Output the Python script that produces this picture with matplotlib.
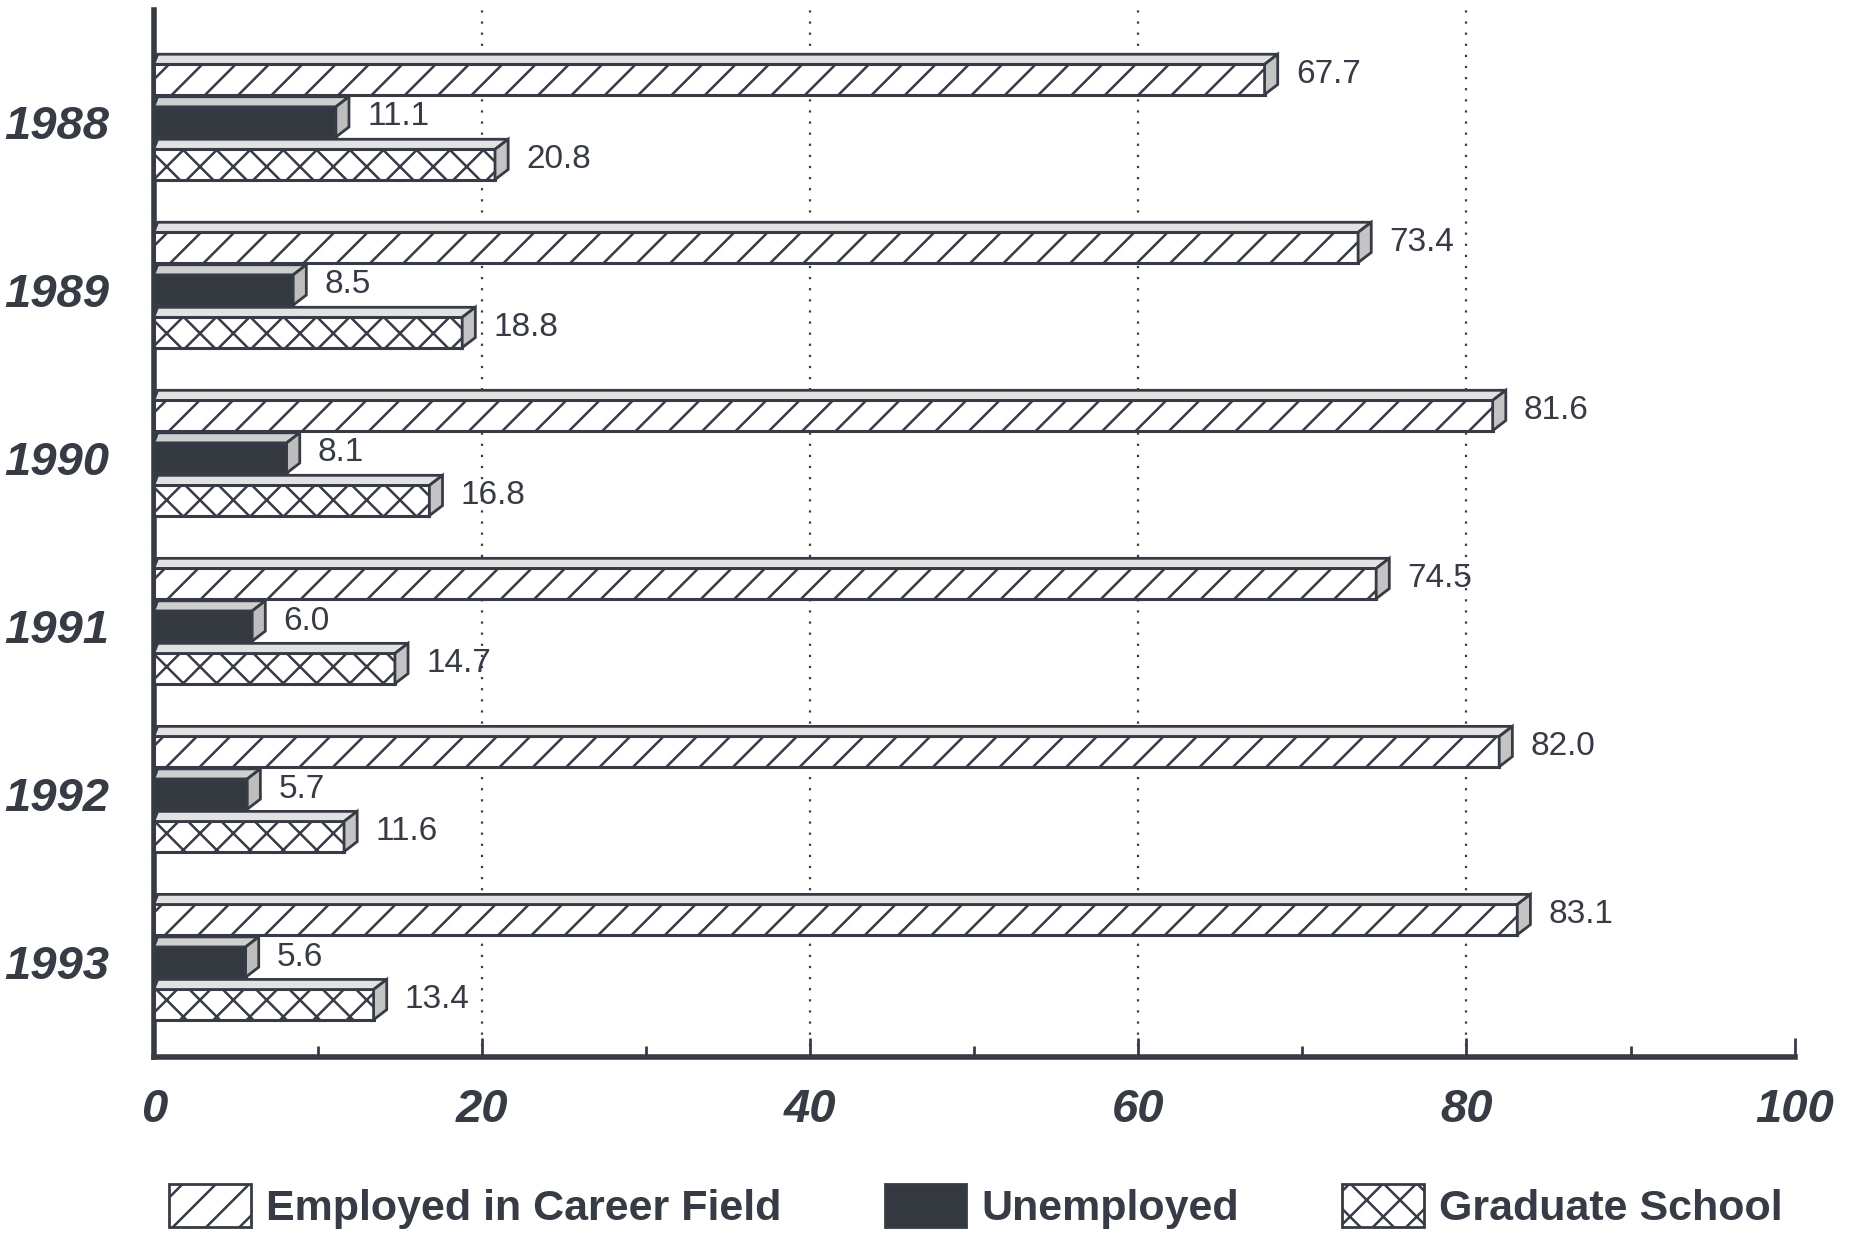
import matplotlib.pyplot as plt
import matplotlib.patches as mpatches
from matplotlib.patches import Polygon
import numpy as np

years = ['1988', '1989', '1990', '1991', '1992', '1993']
employed = [67.7, 73.4, 81.6, 74.5, 82.0, 83.1]
unemployed = [11.1, 8.5, 8.1, 6.0, 5.7, 5.6]
grad_school = [20.8, 18.8, 16.8, 14.7, 11.6, 13.4]
series_names = ['Employed in Career Field', 'Unemployed', 'Graduate School']

ink = '#363b45'
plt.rcParams['hatch.linewidth'] = 1.8
plt.rcParams['font.family'] = ['Liberation Sans', 'DejaVu Sans']

fig = plt.figure(figsize=(18.52, 12.34), dpi=100)
ax = fig.add_axes([0.083, 0.1434, 0.886, 0.8486])

h = 0.18      # front face height
pitch = 0.253 # distance between bars in a group
dx = 0.8      # depth in x (data units)
dy = 0.06     # depth in y

styles = [
    dict(face='white', hatch='/', top='#e2e2e2', side='#c4c4c4'),
    dict(face='#34383f', hatch=None, top='#cfcfcf', side='#bdbdbd'),
    dict(face='white', hatch='x', top='#e2e2e2', side='#c4c4c4'),
]

y_center = np.arange(len(years))
for k, vals in enumerate([employed, unemployed, grad_school]):
    st = styles[k]
    ys = y_center + (k - 1) * pitch
    ax.barh(ys, vals, height=h, color=st['face'], hatch=st['hatch'],
            edgecolor=ink, linewidth=2.2, zorder=3)
    for v, yc in zip(vals, ys):
        yt = yc - h / 2
        yb = yc + h / 2
        top = Polygon([(0, yt), (v, yt), (v + dx, yt - dy), (dx * 0.3, yt - dy)],
                      closed=True, facecolor=st['top'], edgecolor=ink, linewidth=2, zorder=3)
        side = Polygon([(v, yt), (v + dx, yt - dy), (v + dx, yb - dy), (v, yb)],
                       closed=True, facecolor=st['side'], edgecolor=ink, linewidth=2, zorder=3)
        ax.add_patch(top)
        ax.add_patch(side)
        ax.text(v + dx + 1.1, yc - dy / 2, f'{v:.1f}', va='center', ha='left',
                fontsize=24, color=ink, zorder=4)

ax.set_xlim(0, 100)
ax.set_ylim(5.565, -0.667)

ax.set_xticks([0, 20, 40, 60, 80, 100])
ax.set_xticks([10, 30, 50, 70, 90], minor=True)
ax.set_xticklabels(['0', '20', '40', '60', '80', '100'])
ax.set_yticks(y_center)
ax.set_yticklabels(years)

for lab in ax.get_xticklabels() + ax.get_yticklabels():
    lab.set_fontsize(34)
    lab.set_fontweight('bold')
    lab.set_fontstyle('italic')
    lab.set_color(ink)

ax.tick_params(axis='x', which='major', direction='in', length=14, width=2, color=ink, pad=22)
ax.tick_params(axis='x', which='minor', direction='in', length=8, width=2, color=ink)
ax.tick_params(axis='y', length=0, pad=32)

for x in [20, 40, 60, 80]:
    ax.axvline(x, color=ink, linestyle=(0, (1, 4)), linewidth=1.6, zorder=1)

for s in ['top', 'right']:
    ax.spines[s].set_visible(False)
for s in ['left', 'bottom']:
    ax.spines[s].set_linewidth(4)
    ax.spines[s].set_color(ink)

handles = [
    mpatches.Patch(facecolor='white', hatch='/', edgecolor=ink, linewidth=2),
    mpatches.Patch(facecolor='#34383f', edgecolor=ink, linewidth=2),
    mpatches.Patch(facecolor='white', hatch='x', edgecolor=ink, linewidth=2),
]
leg = fig.legend(handles, series_names, loc='center', bbox_to_anchor=(0.527, 0.022),
                 ncol=3, frameon=False, handlelength=1.9, handleheight=1.15,
                 columnspacing=2.4, handletextpad=0.35,
                 prop=dict(size=31, weight='bold'))
for t in leg.get_texts():
    t.set_color(ink)

fig.savefig('out.png', dpi=100)
